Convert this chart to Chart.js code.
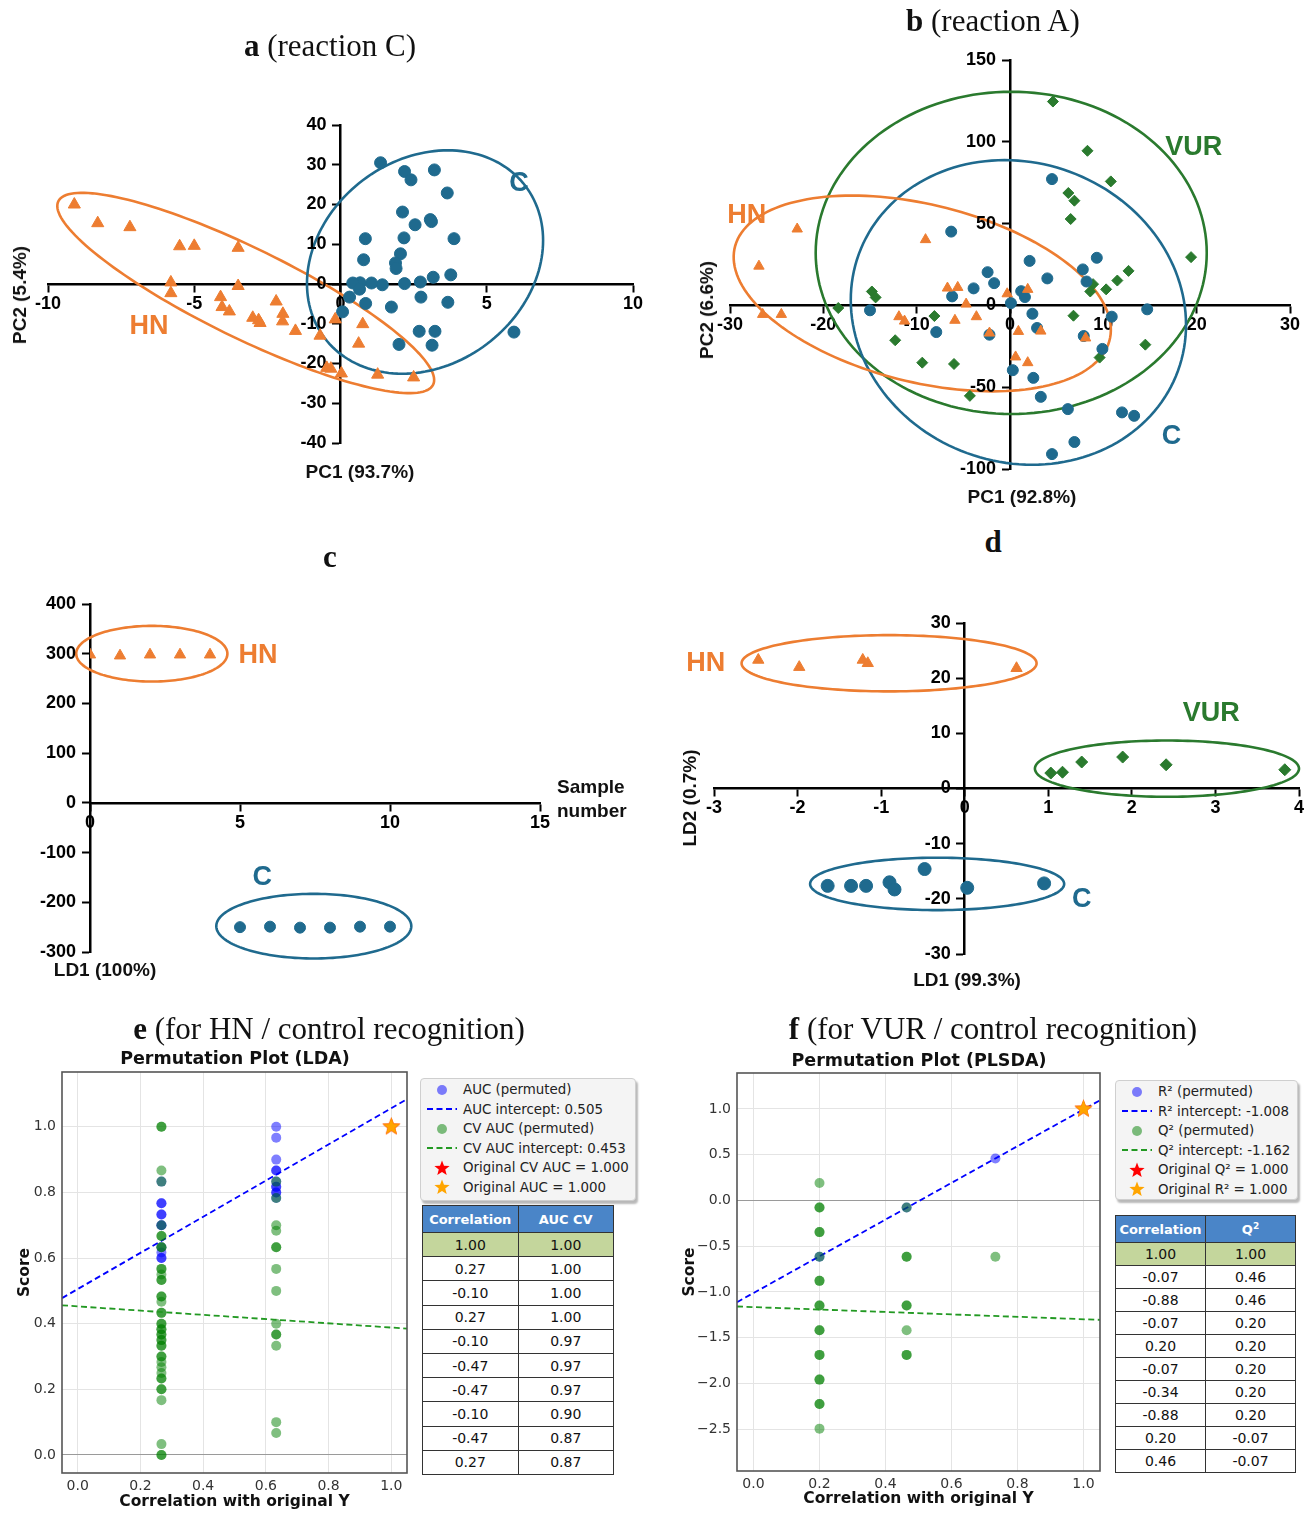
<!DOCTYPE html>
<html>
<head>
<meta charset="utf-8">
<script src="https://cdn.jsdelivr.net/npm/chart.js@4.4.1/dist/chart.umd.min.js"></script>
<style>
  body { margin: 0; background: #fff; }
  #page { position: relative; width: 1314px; height: 1520px; overflow: hidden; font-family: 'Liberation Sans', Arial, sans-serif; color: #111; }
  canvas { position: absolute; }
  .ttl { position: absolute; font-family: 'Liberation Serif', 'DejaVu Serif', serif; font-size: 31px; white-space: nowrap; transform: translate(-50%, -50%); }
  .ax { position: absolute; font-weight: bold; font-size: 19px; white-space: nowrap; transform: translate(-50%, -50%); }
  .ax.rot { transform: translate(-50%, -50%) rotate(-90deg); }
  .ptitle { position: absolute; font-family: 'DejaVu Sans', sans-serif; font-weight: bold; font-size: 17.5px; white-space: nowrap; transform: translate(-50%, -50%); }
  .legend { position: absolute; background: #f4f4f4; border: 1px solid #cfcfcf; border-radius: 4px; box-shadow: 2px 3px 2px rgba(0,0,0,0.28); font-family: 'DejaVu Sans', sans-serif; font-size: 13.4px; color: #222; box-sizing: border-box; padding-top: 1px; }
  .legend .row { display: flex; align-items: center; height: 19.5px; white-space: nowrap; }
  .legend .sym { width: 42px; display: flex; justify-content: center; align-items: center; flex: none; }
  table.perm { position: absolute; border-collapse: collapse; font-family: 'DejaVu Sans', sans-serif; font-size: 14px; text-align: center; table-layout: fixed; }
  table.perm td, table.perm th { border: 1.5px solid #333; padding: 0; }
  table.perm th { background: #4a85c8; color: #fff; font-size: 13px; font-weight: bold; }
  table.perm tr.orig td { background: #c4d69c; }
</style>
</head>
<body>
<div id="page">
  <canvas id="chA" width="660" height="440" style="left:0;top:60px"></canvas>
  <canvas id="chB" width="624" height="470" style="left:690px;top:30px"></canvas>
  <canvas id="chC" width="660" height="420" style="left:0;top:570px"></canvas>
  <canvas id="chD" width="644" height="410" style="left:670px;top:590px"></canvas>
  <canvas id="chE" width="418" height="480" style="left:0;top:1040px"></canvas>
  <canvas id="chF" width="430" height="480" style="left:680px;top:1040px"></canvas>

  <div class="ttl" style="left:330px;top:46px"><b>a</b> (reaction C)</div>
  <div class="ttl" style="left:993px;top:21px"><b>b</b> (reaction A)</div>
  <div class="ttl" style="left:330px;top:557px"><b>c</b></div>
  <div class="ttl" style="left:993px;top:542px"><b>d</b></div>
  <div class="ttl" style="left:329px;top:1029px"><b>e</b> (for HN / control recognition)</div>
  <div class="ttl" style="left:993px;top:1029px"><b>f</b> (for VUR / control recognition)</div>

  <div class="ax" style="left:360px;top:472px">PC1 (93.7%)</div>
  <div class="ax rot" style="left:20px;top:295px">PC2 (5.4%)</div>
  <div class="ax" style="left:1022px;top:497px">PC1 (92.8%)</div>
  <div class="ax rot" style="left:707px;top:310px">PC2 (6.6%)</div>
  <div class="ax" style="left:557px;top:775px;transform:none;line-height:24px">Sample<br>number</div>
  <div class="ax" style="left:105px;top:970px">LD1 (100%)</div>
  <div class="ax" style="left:967px;top:980px">LD1 (99.3%)</div>
  <div class="ax rot" style="left:690px;top:798px">LD2 (0.7%)</div>

  <div class="ptitle" style="left:235px;top:1058px">Permutation Plot (LDA)</div>
  <div class="ptitle" style="left:919px;top:1060px">Permutation Plot (PLSDA)</div>

  <div class="legend" id="legE" style="left:420px;top:1078px;width:216px;height:123px"></div>
  <div class="legend" id="legF" style="left:1115px;top:1080px;width:183px;height:120px"></div>
  <table class="perm" id="tabE" style="left:422px;top:1205px;width:192px"></table>
  <table class="perm" id="tabF" style="left:1115px;top:1215px;width:181px"></table>
</div>

<script>
// ---------- a (reaction C): PCA scores
const aXAxis = [-10, 10, 5];
const aYAxis = [-40, 40, 10];
const aHN = [[-9.1,20],[-8.3,15.3],[-7.2,14.3],[-5.5,9.5],[-5.0,9.6],[-3.5,9.1],[-5.8,0.4],[-5.8,-2.3],[-3.5,-0.5],[-4.1,-3.3],
  [-4.05,-5.8],[-3.8,-6.9],[-3.0,-8.5],[-2.8,-9.1],[-2.75,-9.8],[-2.2,-4.4],[-1.97,-7.5],[-1.98,-9.4],[-1.54,-11.8],[-0.7,-13.0],
  [-0.18,-8.9],[0.76,-10.1],[0.62,-15.0],[-0.47,-21.1],[-0.33,-21.3],[0.03,-22.5],[1.27,-22.8],[2.5,-23.5]];
const aC = [[1.37,30.5],[2.19,28.3],[2.41,26.2],[3.21,28.7],[3.65,22.9],[2.12,18.1],[2.55,14.9],[3.07,16.2],[3.11,15.7],[3.88,11.4],
  [0.85,11.4],[2.17,11.6],[0.79,6.1],[2.05,7.6],[1.88,5.3],[1.9,3.9],[3.77,2.3],[3.17,1.7],[2.73,0.5],[2.19,0.1],
  [1.43,-0.2],[1.06,0.25],[0.67,0.3],[0.42,0.25],[0.65,-1.3],[0.31,-3.3],[0.07,-7.0],[0.86,-4.9],[1.74,-5.8],[2.75,-3.3],
  [3.67,-4.6],[2.69,-11.9],[3.23,-11.9],[3.13,-15.4],[2.0,-15.2],[5.93,-12.1]];
// group ellipses: centre (cx, cy) and two conjugate half-axes u, v, in data units
const aEllipses = [
  { group: 'HN', cx: -3.24, cy: -2.26, ux: 6.37, uy: -23.5, vx: -0.96, vy: -9.1 },
  { group: 'C', cx: 2.89, cy: 5.53, ux: 0.78, uy: 28.1, vx: 3.96, vy: 0 }
];
const aLabels = [['HN', -6.55, -10.8], ['C', 6.1, 25.2]];

// ---------- b (reaction A): PCA scores
const bXAxis = [-30, 30, 10];
const bYAxis = [-100, 150, 50];
const bHN = [[-22.8,46.7],[-26.9,24.0],[-26.5,-5.5],[-24.5,-5.5],[-9.05,40.2],[-6.7,10.6],[-5.6,11.0],[-4.7,0.8],[-5.9,-9.1],[-3.6,-6.9],
  [-11.9,-6.9],[-11.3,-9.6],[-2.2,-16.9],[-0.3,7.1],[1.9,9.8],[0.9,-15.9],[3.3,-15.7],[0.6,-31.5],[1.9,-35.0],[8.1,-19.9]];
const bC = [[4.5,77.2],[-6.3,45.1],[2.1,27.2],[9.3,29.1],[-2.4,20.3],[-1.7,13.6],[-3.9,10.4],[4.0,16.5],[7.8,22.0],[8.2,14.6],
  [1.2,8.7],[1.6,5.1],[0.1,1.4],[-6.2,5.5],[-15.0,-3.0],[-7.9,-16.3],[-2.2,-17.9],[2.4,-5.1],[2.9,-13.8],[7.9,-18.7],
  [10.9,-6.9],[14.7,-2.4],[9.9,-26.6],[0.3,-39.6],[2.5,-44.3],[3.3,-55.9],[6.2,-63.4],[12.0,-65.4],[13.3,-67.5],[6.9,-83.5],[4.5,-90.9]];
const bVUR = [[4.6,124.6],[8.3,94.5],[10.8,75.8],[6.25,68.7],[6.9,64.0],[6.5,52.8],[19.4,29.5],[12.7,21.1],[11.5,15.2],[8.9,13.0],
  [10.3,9.8],[8.6,8.5],[-14.8,8.5],[-14.4,4.9],[-18.4,-1.6],[-8.1,-6.5],[6.8,-6.3],[-12.3,-21.3],[14.5,-24.0],[-9.4,-35.0],
  [-6.0,-35.8],[9.6,-31.9],[-4.3,-55.3]];
const bEllipses = [
  { group: 'VUR', cx: 0.13, cy: 32.1, ux: 20.95, uy: 0, vx: 0, vy: 98.5 },
  { group: 'C', cx: 0.9, cy: -4.3, ux: -1.47, uy: 93.1, vx: 17.9, vy: 0 },
  { group: 'HN', cx: -9.4, cy: 7.3, ux: -4.5, uy: 59.1, vx: 19.7, vy: -9.3 }
];
const bLabels = [['HN', -28.2, 54.9], ['VUR', 19.7, 96.5], ['C', 17.3, -80.3]];

// ---------- c: LDA HN / control
const cXAxis = [0, 15, 5];
const cYAxis = [-300, 400, 100];
const cHN = [[0,298],[1,296],[2,298],[3,298],[4,298]];
const cC = [[5,-250],[6,-249],[7,-251],[8,-251],[9,-249],[10,-249]];
const cEllipses = [
  { group: 'HN', cx: 2.06, cy: 300, ux: 2.52, uy: 0, vx: 0, vy: 56 },
  { group: 'C', cx: 7.46, cy: -248, ux: 3.25, uy: 0, vx: 0, vy: 65 }
];
const cLabels = [['HN', 5.6, 296], ['C', 5.74, -150]];

// ---------- d: LDA HN / VUR / control
const dXAxis = [-3, 4, 1];
const dYAxis = [-30, 30, 10];
const dHN = [[-2.47,23.3],[-1.98,22.0],[-1.22,23.3],[-1.16,22.7],[0.62,21.8]];
const dVUR = [[1.03,2.8],[1.17,2.95],[1.40,4.8],[1.89,5.7],[2.41,4.3],[3.83,3.4]];
const dC = [[-1.64,-17.65],[-1.36,-17.65],[-1.18,-17.65],[-0.90,-17.0],[-0.84,-18.3],[-0.48,-14.6],[0.03,-18.0],[0.95,-17.2]];
const dEllipses = [
  { group: 'HN', cx: -0.905, cy: 22.7, ux: 1.765, uy: 0, vx: 0, vy: 5.1 },
  { group: 'VUR', cx: 2.42, cy: 3.6, ux: 1.58, uy: 0, vx: 0, vy: 5.1 },
  { group: 'C', cx: -0.33, cy: -17.3, ux: 1.52, uy: 0, vx: 0, vy: 4.75 }
];
const dLabels = [['HN', -3.1, 22.7], ['VUR', 2.95, 13.5], ['C', 1.4, -20.1]];

// ---------- e: permutation plot (LDA)
const eCorrLow = 0.267, eCorrHigh = 0.633;
const eAucLow = [0.833,0.767,0.767,0.733,0.733,0.700,0.700,0.633,0.617,0.600,0.600];
const eAucHigh = [1.000,0.967,0.900,0.867,0.867,0.833,0.817,0.817,0.800,0.800,0.783];
const eCvLow = [1.0,1.0,0.867,0.833,0.700,0.667,0.667,0.633,0.633,0.567,0.567,0.550,0.533,0.533,0.483,0.483,0.467,0.433,0.433,
  0.400,0.400,0.383,0.383,0.367,0.367,0.350,0.350,0.333,0.333,0.300,0.300,0.283,0.267,0.250,0.233,0.233,0.200,0.200,0.167,0.033,0.000,0.000];
const eCvHigh = [0.833,0.783,0.700,0.683,0.633,0.633,0.567,0.500,0.400,0.367,0.367,0.333,0.100,0.067];
const eAucLine = [[-0.05,0.478],[1.05,1.084]];
const eCvLine = [[-0.05,0.456],[1.05,0.385]];
const eOriginal = [1.0, 1.0];
const eTableCorr = [1.00, 0.27, -0.10, 0.27, -0.10, -0.47, -0.47, -0.10, -0.47, 0.27];
const eTableAuc = [1.00, 1.00, 1.00, 1.00, 0.97, 0.97, 0.97, 0.90, 0.87, 0.87];
const eLegend = ['AUC (permuted)', 'AUC intercept: 0.505', 'CV AUC (permuted)', 'CV AUC intercept: 0.453', 'Original CV AUC = 1.000', 'Original AUC = 1.000'];

// ---------- f: permutation plot (PLSDA)
const fCorrLevels = [0.2, 0.464, 0.733];
const fR2 = [[-0.616], [-0.077], [0.459]];
const fQ2 = [
  [0.19,-0.077,-0.077,-0.346,-0.346,-0.616,-0.879,-0.879,-1.148,-1.148,-1.418,-1.418,-1.688,-1.688,-1.958,-1.958,-2.224,-2.224,-2.494],
  [-0.077,-0.616,-0.616,-1.148,-1.148,-1.418,-1.688,-1.688],
  [-0.616]
];
const fR2Line = [[-0.05,-1.112],[1.05,1.095]];
const fQ2Line = [[-0.05,-1.159],[1.05,-1.305]];
const fOriginal = [1.0, 1.0];
const fTableCorr = [1.00, -0.07, -0.88, -0.07, 0.20, -0.07, -0.34, -0.88, 0.20, 0.46];
const fTableQ2 = [1.00, 0.46, 0.46, 0.20, 0.20, 0.20, 0.20, 0.20, -0.07, -0.07];
const fLegend = ['R\u00b2 (permuted)', 'R\u00b2 intercept: -1.008', 'Q\u00b2 (permuted)', 'Q\u00b2 intercept: -1.162', 'Original Q\u00b2 = 1.000', 'Original R\u00b2 = 1.000'];

// ---------- styling
const groupColor = { HN: '#ed7d31', C: '#1f6a8e', VUR: '#2a7a2e' };
const groupShape = { HN: 'triangle', C: 'circle', VUR: 'rectRot' };
const NARROW = "'Liberation Sans Narrow', 'Liberation Sans', Arial, sans-serif";
const BLUE_PT = 'rgba(0,0,255,0.5)';
const GREEN_PT = 'rgba(0,128,0,0.5)';

// ellipses, group names, and the y tick labels (kept clear of an axis crossing at x = 0)
const groupPlugin = {
  id: 'groups',
  beforeDatasetsDraw(chart, args, opts) {
    const { ctx, scales: { x, y } } = chart;
    (opts.ellipses || []).forEach(e => {
      ctx.save();
      ctx.beginPath();
      for (let i = 0; i <= 160; i++) {
        const t = i / 160 * Math.PI * 2;
        const px = x.getPixelForValue(e.cx + e.ux * Math.cos(t) + e.vx * Math.sin(t));
        const py = y.getPixelForValue(e.cy + e.uy * Math.cos(t) + e.vy * Math.sin(t));
        if (i === 0) ctx.moveTo(px, py); else ctx.lineTo(px, py);
      }
      ctx.closePath();
      ctx.lineWidth = 2.6;
      ctx.strokeStyle = groupColor[e.group];
      ctx.stroke();
      ctx.restore();
    });
    (opts.labels || []).forEach(([text, lx, ly]) => {
      ctx.save();
      ctx.font = 'bold 27px ' + NARROW;
      ctx.fillStyle = groupColor[text];
      ctx.textAlign = 'center';
      ctx.textBaseline = 'middle';
      ctx.fillText(text, x.getPixelForValue(lx), y.getPixelForValue(ly));
      ctx.restore();
    });
    const ax = x.getPixelForValue(0) - 14;
    ctx.save();
    ctx.font = 'bold 18px ' + NARROW;
    ctx.fillStyle = '#000';
    ctx.textAlign = 'right';
    ctx.textBaseline = 'middle';
    y.ticks.forEach(t => ctx.fillText(t.label, ax, y.getPixelForValue(t.value)));
    ctx.restore();
  }
};

const framePlugin = {
  id: 'frame',
  afterDraw(chart) {
    const { ctx, chartArea: a } = chart;
    ctx.save();
    ctx.strokeStyle = '#555';
    ctx.lineWidth = 1.6;
    ctx.strokeRect(a.left, a.top, a.width, a.height);
    ctx.restore();
  }
};

const points = (arr, group, r) => ({
  data: arr.map(([x, y]) => ({ x, y })),
  pointStyle: groupShape[group],
  pointRadius: r,
  pointBackgroundColor: groupColor[group],
  pointBorderColor: groupColor[group],
  pointBorderWidth: 1
});

function pcaChart(id, xr, yr, datasets, ellipses, labels, pad) {
  const axis = (r, pos, showLabels) => ({
    type: 'linear', min: r[0], max: r[1], position: pos,
    border: { display: true, color: '#000', width: 2.5 },
    grid: { drawOnChartArea: false, drawTicks: true, tickLength: 7, tickColor: '#000', tickWidth: 2 },
    ticks: { display: showLabels, stepSize: r[2], color: '#000', font: { family: NARROW, size: 18, weight: 'bold' }, autoSkip: false, maxRotation: 0, padding: 2 }
  });
  return new Chart(document.getElementById(id), {
    type: 'scatter',
    data: { datasets },
    options: {
      responsive: false, animation: false,
      layout: { padding: pad },
      scales: { x: axis(xr, { y: 0 }, true), y: axis(yr, { x: 0 }, false) },
      plugins: { legend: { display: false }, tooltip: { enabled: false }, groups: { ellipses, labels } }
    },
    plugins: [groupPlugin]
  });
}

pcaChart('chA', aXAxis, aYAxis, [points(aHN, 'HN', 7), points(aC, 'C', 6)], aEllipses, aLabels,
  { left: 48, top: 65, right: 27, bottom: 57 });
pcaChart('chB', bXAxis, bYAxis, [points(bHN, 'HN', 6), points(bC, 'C', 5.5), points(bVUR, 'VUR', 5.5)], bEllipses, bLabels,
  { left: 40, top: 30, right: 24, bottom: 31 });
pcaChart('chC', cXAxis, cYAxis, [points(cHN, 'HN', 6.5), points(cC, 'C', 5.5)], cEllipses, cLabels,
  { left: 90, top: 34, right: 120, bottom: 38 });
pcaChart('chD', dXAxis, dYAxis, [points(dHN, 'HN', 6.5), points(dVUR, 'VUR', 6), points(dC, 'C', 6.5)], dEllipses, dLabels,
  { left: 44, top: 33, right: 15, bottom: 46 });

// ---------- permutation plots
function starImage(color, r) {
  const c = document.createElement('canvas');
  const s = Math.ceil(r * 2 + 2);
  c.width = s; c.height = s;
  const g = c.getContext('2d');
  g.beginPath();
  for (let i = 0; i < 10; i++) {
    const a = -Math.PI / 2 + i * Math.PI / 5;
    const rr = i % 2 ? r * 0.42 : r;
    g.lineTo(s / 2 + rr * Math.cos(a), s / 2 + rr * Math.sin(a));
  }
  g.closePath();
  g.fillStyle = color;
  g.fill();
  return c;
}

const column = (x, ys) => ys.map(y => ({ x, y }));
const dashed = (pts, color) => ({
  data: pts.map(([x, y]) => ({ x, y })), showLine: true, borderColor: color, borderWidth: 1.8,
  borderDash: [6, 3.5], pointRadius: 0, fill: false
});
const dots = (data, color) => ({ data, pointRadius: 5, pointBackgroundColor: color, pointBorderWidth: 0, showLine: false });
const star = (pt, color) => ({ data: [{ x: pt[0], y: pt[1] }], pointStyle: starImage(color, 9.5), pointRadius: 9 });

function permChart(id, datasets, yr, yStep, yFmt, dims) {
  const tickFont = { family: "'DejaVu Sans', sans-serif", size: 14 };
  const titleFont = { family: "'DejaVu Sans', sans-serif", size: 15.5, weight: 'bold' };
  return new Chart(document.getElementById(id), {
    type: 'scatter',
    data: { datasets },
    options: {
      responsive: false, animation: false,
      layout: { padding: { left: 0, top: dims.top, right: dims.right, bottom: 0 } },
      scales: {
        x: {
          type: 'linear', min: -0.05, max: 1.05,
          border: { display: false },
          grid: { color: '#e4e4e4', drawTicks: false },
          ticks: { stepSize: 0.2, includeBounds: false, color: '#333', font: tickFont, padding: 5, callback: v => v.toFixed(1) },
          title: { display: true, text: 'Correlation with original Y', color: '#111', font: titleFont, padding: { top: 0, bottom: dims.xTitlePad } },
          afterFit: s => { s.height = dims.xh; }
        },
        y: {
          type: 'linear', min: yr[0], max: yr[1],
          border: { display: false },
          grid: { color: c => Math.abs(c.tick.value) < 1e-9 ? '#9a9a9a' : '#e4e4e4', drawTicks: false },
          ticks: { stepSize: yStep, includeBounds: false, color: '#333', font: tickFont, padding: 6, callback: yFmt },
          title: { display: true, text: 'Score', color: '#111', font: titleFont, padding: { top: dims.yTitlePad, bottom: 0 } },
          afterFit: s => { s.width = dims.yw; }
        }
      },
      plugins: { legend: { display: false }, tooltip: { enabled: false } }
    },
    plugins: [framePlugin]
  });
}

permChart('chE', [
  star(eOriginal, '#ffa500'),
  star(eOriginal, '#ff0000'),
  dashed(eCvLine, '#229922'),
  dots(column(eCorrLow, eCvLow).concat(column(eCorrHigh, eCvHigh)), GREEN_PT),
  dashed(eAucLine, '#0000ff'),
  dots(column(eCorrLow, eAucLow).concat(column(eCorrHigh, eAucHigh)), BLUE_PT)
], [-0.055, 1.167], 0.2, v => v.toFixed(1),
  { top: 32, right: 11, xh: 47, yw: 62, xTitlePad: 9, yTitlePad: 16 });

permChart('chF', [
  star(fOriginal, '#ffa500'),
  star(fOriginal, '#ff0000'),
  dashed(fQ2Line, '#229922'),
  dots(fCorrLevels.flatMap((c, i) => column(c, fQ2[i])), GREEN_PT),
  dashed(fR2Line, '#0000ff'),
  dots(fCorrLevels.flatMap((c, i) => column(c, fR2[i])), BLUE_PT)
], [-2.957, 1.393], 0.5, v => (v < -1e-9 ? '\u2212' : '') + Math.abs(v).toFixed(1),
  { top: 33, right: 8, xh: 49, yw: 57, xTitlePad: 12, yTitlePad: 1 });

// ---------- legends and tables
function symbol(kind, color) {
  if (kind === 'dot') return `<svg width="14" height="14"><circle cx="7" cy="7" r="5" fill="${color}"/></svg>`;
  if (kind === 'dash') return `<svg width="30" height="6"><line x1="0" y1="3" x2="30" y2="3" stroke="${color}" stroke-width="1.8" stroke-dasharray="6,3.5"/></svg>`;
  const pts = [];
  for (let i = 0; i < 10; i++) {
    const a = -Math.PI / 2 + i * Math.PI / 5;
    const rr = i % 2 ? 3.4 : 8;
    pts.push((9 + rr * Math.cos(a)).toFixed(2) + ',' + (9.5 + rr * Math.sin(a)).toFixed(2));
  }
  return `<svg width="18" height="18"><polygon points="${pts.join(' ')}" fill="${color}"/></svg>`;
}
const legendSymbols = [['dot', BLUE_PT], ['dash', '#0000ff'], ['dot', GREEN_PT], ['dash', '#229922'], ['star', '#ff0000'], ['star', '#ffa500']];

function buildLegend(id, entries) {
  document.getElementById(id).innerHTML = entries.map((t, i) =>
    `<div class="row"><span class="sym">${symbol(...legendSymbols[i])}</span><span>${t}</span></div>`).join('');
}
buildLegend('legE', eLegend);
buildLegend('legF', fLegend);

function buildTable(id, head, colA, colB, headH, rowH) {
  let html = `<tr style="height:${headH}px"><th>${head[0]}</th><th>${head[1]}</th></tr>`;
  colA.forEach((v, i) => {
    html += `<tr class="${i === 0 ? 'orig' : ''}" style="height:${rowH}px"><td>${v.toFixed(2)}</td><td>${colB[i].toFixed(2)}</td></tr>`;
  });
  document.getElementById(id).innerHTML = html;
}
buildTable('tabE', ['Correlation', 'AUC CV'], eTableCorr, eTableAuc, 27, 24.2);
buildTable('tabF', ['Correlation', 'Q<sup style="font-size:9px">2</sup>'], fTableCorr, fTableQ2, 27, 23);
</script>
</body>
</html>
